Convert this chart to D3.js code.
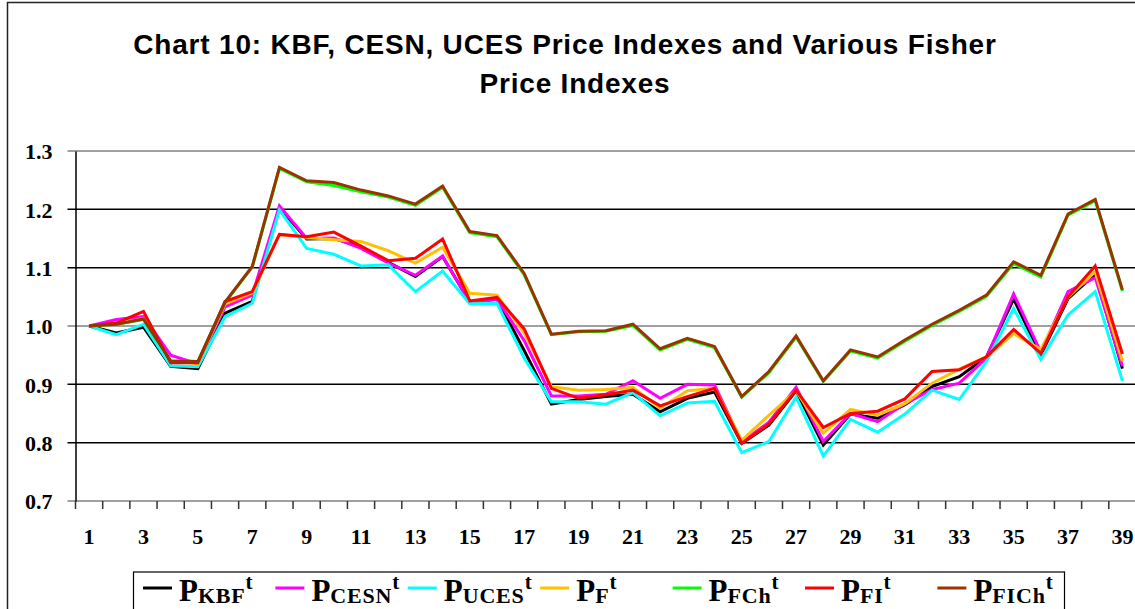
<!DOCTYPE html>
<html>
<head>
<meta charset="utf-8">
<script src="https://cdn.jsdelivr.net/npm/d3@7"></script>
<style>
  body { margin: 0; background: #fff; }
  svg { display: block; }
</style>
</head>
<body>
<div id="chart"></div>
<script>
// periods 1..39
var periods = d3.range(1, 40);
var yTicks = [0.7, 0.8, 0.9, 1.0, 1.1, 1.2, 1.3];

var kbf = [1.000, 0.988, 0.998, 0.931, 0.927, 1.022, 1.042, 1.203, 1.149, 1.150,
	1.136, 1.109, 1.085, 1.119, 1.041, 1.046, 0.958, 0.866, 0.874, 0.879,
	0.883, 0.853, 0.876, 0.887, 0.799, 0.830, 0.889, 0.796, 0.849, 0.842,
	0.865, 0.896, 0.913, 0.947, 1.046, 0.950, 1.047, 1.089, 0.927];
var cesn = [1.000, 1.011, 1.016, 0.950, 0.935, 1.033, 1.053, 1.206, 1.150, 1.151,
	1.133, 1.108, 1.087, 1.120, 1.040, 1.046, 0.975, 0.880, 0.880, 0.883,
	0.906, 0.876, 0.900, 0.899, 0.801, 0.835, 0.895, 0.802, 0.850, 0.836,
	0.867, 0.891, 0.902, 0.945, 1.055, 0.955, 1.059, 1.083, 0.931];
var uces = [1.000, 0.985, 1.003, 0.932, 0.930, 1.016, 1.039, 1.199, 1.133, 1.123,
	1.103, 1.105, 1.059, 1.094, 1.038, 1.039, 0.945, 0.870, 0.870, 0.866,
	0.886, 0.846, 0.868, 0.871, 0.783, 0.802, 0.878, 0.777, 0.840, 0.818,
	0.849, 0.890, 0.874, 0.939, 1.030, 0.943, 1.019, 1.059, 0.906];
var pf = [1.000, 1.003, 1.013, 0.940, 0.936, 1.038, 1.057, 1.157, 1.152, 1.148,
	1.145, 1.129, 1.108, 1.135, 1.056, 1.053, 0.988, 0.896, 0.890, 0.891,
	0.895, 0.859, 0.889, 0.893, 0.804, 0.847, 0.889, 0.816, 0.857, 0.847,
	0.867, 0.902, 0.926, 0.947, 0.987, 0.960, 1.049, 1.093, 0.940];
var pfch = [1.000, 1.003, 1.011, 0.940, 0.939, 1.040, 1.101, 1.270, 1.247, 1.241,
	1.230, 1.221, 1.207, 1.238, 1.160, 1.153, 1.088, 0.985, 0.990, 0.991,
	1.001, 0.959, 0.977, 0.963, 0.878, 0.920, 0.981, 0.905, 0.957, 0.945,
	0.974, 1.001, 1.025, 1.051, 1.107, 1.084, 1.190, 1.215, 1.060];
var pfi = [1.000, 1.005, 1.025, 0.937, 0.937, 1.042, 1.059, 1.157, 1.153, 1.161,
	1.137, 1.112, 1.116, 1.149, 1.043, 1.049, 0.995, 0.893, 0.876, 0.882,
	0.890, 0.863, 0.879, 0.893, 0.799, 0.832, 0.890, 0.826, 0.850, 0.854,
	0.875, 0.922, 0.925, 0.947, 0.994, 0.953, 1.050, 1.103, 0.952];
var pfich = [1.000, 1.003, 1.012, 0.940, 0.939, 1.041, 1.102, 1.272, 1.249, 1.246,
	1.233, 1.223, 1.209, 1.240, 1.162, 1.155, 1.090, 0.986, 0.991, 0.992,
	1.003, 0.961, 0.979, 0.965, 0.879, 0.922, 0.983, 0.906, 0.959, 0.947,
	0.976, 1.003, 1.027, 1.053, 1.110, 1.087, 1.192, 1.217, 1.062];

var seriesNames = ['KBF', 'CESN', 'UCES', 'F', 'FCh', 'FI', 'FICh'];
var seriesValues = [kbf, cesn, uces, pf, pfch, pfi, pfich];
var seriesColors = ['#000000', '#ff00ff', '#00ffff', '#ffc000', '#00ff00', '#ff0000', '#993300'];

var width = 1135, height = 609;
var plot = { left: 75.5, right: 1136, top: 151, bottom: 501 };

var svg = d3.select('#chart').append('svg')
	.attr('width', width)
	.attr('height', height);

// outer chart frame (cut off on right/bottom like the original)
svg.append('rect')
	.attr('x', 7.5).attr('y', 2.5)
	.attr('width', 1150).attr('height', 640)
	.attr('fill', 'none')
	.attr('stroke', '#222')
	.attr('stroke-width', 1.5);

// title
var title = svg.append('text')
	.attr('font-family', '"Liberation Sans", Arial, sans-serif')
	.attr('font-weight', 'bold')
	.attr('font-size', 28)
	.attr('letter-spacing', 0.8)
	.attr('fill', '#000')
	.attr('text-anchor', 'middle');
title.append('tspan').attr('x', 565).attr('y', 54)
	.text('Chart 10: KBF, CESN, UCES Price Indexes and Various Fisher');
title.append('tspan').attr('x', 575).attr('y', 93)
	.text('Price Indexes');

var x = d3.scaleBand()
	.domain(periods)
	.range([plot.left, plot.right]);

var y = d3.scaleLinear()
	.domain([0.7, 1.3])
	.range([plot.bottom, plot.top]);

// gridlines
svg.append('g').selectAll('line')
	.data(yTicks)
	.enter().append('line')
		.attr('x1', plot.left - 8)
		.attr('x2', plot.right)
		.attr('y1', function (d) { return y(d); })
		.attr('y2', function (d) { return y(d); })
		.attr('stroke', function (d) {
			var k = Math.round(d * 10);
			return (k === 7 || k === 10 || k === 13) ? '#808080' : '#000';
		})
		.attr('stroke-width', 1.5);

// y axis
var yAxis = svg.append('g')
	.attr('transform', 'translate(' + plot.left + ',0)')
	.call(d3.axisLeft(y).tickValues(yTicks).tickSize(0).tickPadding(23)
		.tickFormat(d3.format('.1f')));
yAxis.select('.domain').attr('stroke', '#000').attr('stroke-width', 1.5);
yAxis.selectAll('text')
	.attr('font-family', '"Liberation Serif", "Times New Roman", serif')
	.attr('font-weight', 'bold')
	.attr('font-size', 22)
	.attr('fill', '#000')
	.attr('dy', '0.35em');

// x axis: tick marks at category boundaries, labels at odd periods
var xAxis = svg.append('g')
	.attr('transform', 'translate(0,' + plot.bottom + ')')
	.call(d3.axisBottom(x)
		.tickValues(periods.filter(function (d) { return d % 2 === 1; }))
		.tickSize(0).tickPadding(27));
xAxis.select('.domain').remove();
xAxis.selectAll('text')
	.attr('font-family', '"Liberation Serif", "Times New Roman", serif')
	.attr('font-weight', 'bold')
	.attr('font-size', 22)
	.attr('fill', '#000');

svg.append('g').selectAll('line')
	.data(periods)
	.enter().append('line')
		.attr('x1', function (d) { return x(d); })
		.attr('x2', function (d) { return x(d); })
		.attr('y1', plot.bottom)
		.attr('y2', plot.bottom + 8)
		.attr('stroke', '#333')
		.attr('stroke-width', 1.5);

// lines
var line = d3.line()
	.x(function (d, i) { return x(periods[i]) + x.bandwidth() / 2; })
	.y(function (d) { return y(d); });

svg.append('g').selectAll('path')
	.data(seriesValues)
	.enter().append('path')
		.attr('d', line)
		.attr('fill', 'none')
		.attr('stroke', function (d, i) { return seriesColors[i]; })
		.attr('stroke-width', 3)
		.attr('stroke-linejoin', 'miter');

// legend
var legend = svg.append('g');
legend.append('rect')
	.attr('x', 133.5).attr('y', 572)
	.attr('width', 931).attr('height', 50)
	.attr('fill', '#fff')
	.attr('stroke', '#000')
	.attr('stroke-width', 1.2);

var item = legend.selectAll('g.item')
	.data(seriesNames)
	.enter().append('g')
		.attr('class', 'item')
		.attr('transform', function (d, i) { return 'translate(' + (143 + i * 132.4) + ',0)'; });

item.append('line')
	.attr('x1', 0).attr('x2', 29)
	.attr('y1', 588).attr('y2', 588)
	.attr('stroke', function (d, i) { return seriesColors[i]; })
	.attr('stroke-width', 3);

var label = item.append('text')
	.attr('x', 36).attr('y', 601)
	.attr('font-family', '"Liberation Serif", "Times New Roman", serif')
	.attr('font-weight', 'bold')
	.attr('fill', '#000');
label.append('tspan').attr('font-size', 31).text('P');
label.append('tspan').attr('font-size', 22).attr('letter-spacing', 0.8).attr('dy', 2).text(function (d) { return d; });
label.append('tspan').attr('font-size', 21).attr('dy', -14).text('t');
</script>
</body>
</html>
